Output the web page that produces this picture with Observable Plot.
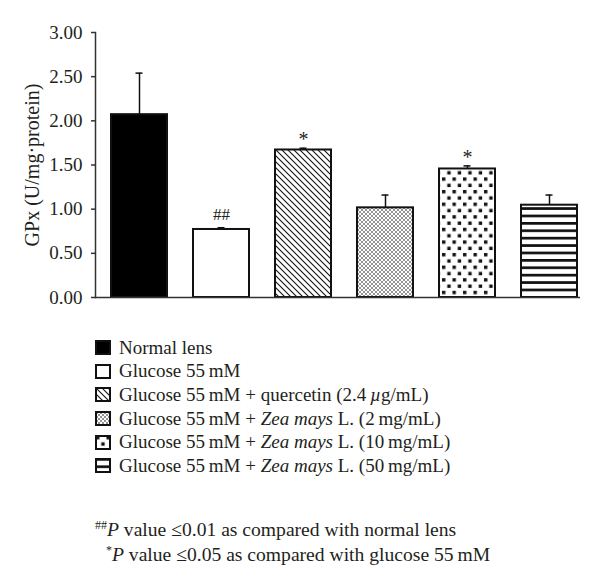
<!DOCTYPE html>
<html>
<head>
<meta charset="utf-8">
<script src="https://cdn.jsdelivr.net/npm/d3@7"></script>
<script src="https://cdn.jsdelivr.net/npm/@observablehq/plot@0.6"></script>
<style>
  body { margin: 0; background: #fff; font-family: "Liberation Serif", serif; color: #231f20; }
  #legend { margin: 26px 0 0 95px; font-size: 19px; }
  .row { display: flex; align-items: center; height: 23.6px; }
  .row svg { flex: none; }
  .row span { margin-left: 8px; white-space: nowrap; }
  #notes { margin-top: 37px; font-size: 19.6px; line-height: 21px; }
  #notes div { white-space: nowrap; }
  sup { font-size: 12px; vertical-align: 7px; }
</style>
</head>
<body>
<div id="chart"></div>
<div id="legend"></div>
<div id="notes"></div>
<script>
// ---- data ----
const categories = [
  "Normal lens",
  "Glucose 55 mM",
  "Glucose 55 mM + quercetin (2.4 µg/mL)",
  "Glucose 55 mM + Zea mays L. (2 mg/mL)",
  "Glucose 55 mM + Zea mays L. (10 mg/mL)",
  "Glucose 55 mM + Zea mays L. (50 mg/mL)"
];
const means  = [2.07, 0.77, 1.67, 1.015, 1.455, 1.045];
const errors = [0.47, 0.02, 0.02, 0.145, 0.035, 0.115];
const signif = ["", "##", "*", "", "*", ""];
const yTicks = [0, 0.5, 1, 1.5, 2, 2.5, 3];
const yLabel = "GPx (U/mg·protein)";
const legendLabels = [
  "Normal lens",
  "Glucose 55\u2009mM",
  "Glucose 55\u2009mM + quercetin (2.4\u2009<i>µ</i>g/mL)",
  "Glucose 55\u2009mM + <i>Zea mays</i> L. (2\u2009mg/mL)",
  "Glucose 55\u2009mM + <i>Zea mays</i> L. (10\u2009mg/mL)",
  "Glucose 55\u2009mM + <i>Zea mays</i> L. (50\u2009mg/mL)"
];
const notes = [
  ["##", "value ≤0.01 as compared with normal lens"],
  ["*", "value ≤0.05 as compared with glucose 55\u2009mM"]
];

// ---- styles ----
const fills = ["#000", "#fff", "url(#pDiag)", "url(#pCross)", "url(#pDots)", "url(#pStripes)"];

const data = categories.map((c, i) => ({cat: c, mean: means[i], err: errors[i], top: means[i] + errors[i], sig: signif[i]}));

const chart = Plot.plot({
  width: 600,
  height: 310,
  marginLeft: 95,
  marginRight: 20,
  marginTop: 32,
  marginBottom: 13,
  style: {fontFamily: "Liberation Serif", fontSize: "19px", color: "#231f20", background: "#fff"},
  x: {domain: categories, range: [109, 578], paddingInner: 0.32, paddingOuter: 0, axis: null},
  y: {domain: [0, 3], axis: null},
  color: {domain: categories, range: fills},
  marks: [
    Plot.axisY({ticks: yTicks, tickFormat: d => d.toFixed(2), tickSize: 4, tickPadding: 9, fontSize: 19, label: null, stroke: "#333", strokeWidth: 1.5}),
    Plot.frame({anchor: "left", stroke: "#333", strokeWidth: 1.5}),
    Plot.text([yLabel], {frameAnchor: "left", textAnchor: "middle", rotate: -90, dx: -63, fontSize: 20, text: d => d}),
    Plot.ruleX(data, {x: "cat", y1: "mean", y2: "top", stroke: "#111", strokeWidth: 1.5}),
    Plot.tickY(data, {x: "cat", y: "top", insetLeft: 24.5, insetRight: 24.5, stroke: "#111", strokeWidth: 1.5}),
    Plot.barY(data, {x: "cat", y: "mean", fill: "cat", stroke: "#111", strokeWidth: 2}),
    Plot.ruleY([0], {stroke: "#333", strokeWidth: 1.5}),
    Plot.text(data, {filter: d => d.sig === "##", x: "cat", y: "top", text: "sig", lineAnchor: "bottom", dy: -8, fontSize: 17}),
    Plot.text(data, {filter: d => d.sig === "*", x: "cat", y: "top", text: "sig", lineAnchor: "bottom", dy: -2, fontSize: 20})
  ]
});

// pattern definitions
const defsMarkup = `
<defs>
  <pattern id="pDiag" patternUnits="userSpaceOnUse" width="6" height="6">
    <rect width="6" height="6" fill="#fff"/>
    <path d="M-1,-1 L7,7 M-1,5 L1,7 M5,-1 L7,1" stroke="#111" stroke-width="1.1"/>
  </pattern>
  <pattern id="pCross" patternUnits="userSpaceOnUse" width="4" height="4">
    <rect width="4" height="4" fill="#fff"/>
    <path d="M0,0 L4,4 M4,0 L0,4" stroke="#888" stroke-width="0.9"/>
  </pattern>
  <pattern id="pDots" patternUnits="userSpaceOnUse" width="10.5" height="12.6">
    <rect width="10.5" height="12.6" fill="#fff"/>
    <rect x="1" y="1" width="3.4" height="3.4" fill="#111"/>
    <rect x="6.25" y="7.3" width="3.4" height="3.4" fill="#111"/>
  </pattern>
  <pattern id="pStripes" patternUnits="userSpaceOnUse" width="8" height="7.4">
    <rect width="8" height="7.4" fill="#fff"/>
    <rect y="0" width="8" height="2.7" fill="#111"/>
  </pattern>
</defs>`;
const holder = document.createElementNS("http://www.w3.org/2000/svg", "svg");
holder.innerHTML = defsMarkup;
chart.insertBefore(holder.querySelector("defs"), chart.firstChild);
document.getElementById("chart").appendChild(chart);

// legend
const legend = document.getElementById("legend");
categories.forEach((c, i) => {
  const row = document.createElement("div");
  row.className = "row";
  row.innerHTML = `<svg width="16" height="15"><rect x="1" y="1" width="14" height="13" fill="${fills[i]}" stroke="#111" stroke-width="2"/></svg><span>${legendLabels[i]}</span>`;
  legend.appendChild(row);
});

// footnotes
const notesEl = document.getElementById("notes");
notes.forEach(([s, t], i) => {
  const d = document.createElement("div");
  d.style.paddingLeft = (i === 0 ? 95 : 106) + "px";
  d.innerHTML = `<sup>${s}</sup><i>P</i> ${t}`;
  notesEl.appendChild(d);
});
</script>
</body>
</html>
